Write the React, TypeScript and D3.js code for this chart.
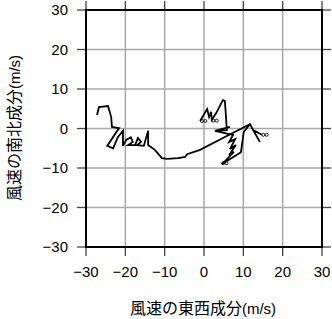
import React from "react";
import * as d3 from "d3";

const xTicks = [-30, -20, -10, 0, 10, 20, 30];
const yTicks = [-30, -20, -10, 0, 10, 20, 30];

// Hodograph trace 1 (u, v) in m/s
const traceU1 = [-27.2, -26.7, -24.4, -23.6, -23.4, -21.6, -24.6, -23.1, -21.9, -20.6, -20.6, -19.8, -18.6, -18.1, -19.3, -17.5, -16.8, -16.0, -17.0, -15.3, -14.2, -14.2, -12.5, -10.7, -9.4, -6.6, -4.8, -4.3, -1.0, 5.8, 11.7, 12.5, 14.2, 12.5, 14.7];
const traceV1 = [3.4, 5.4, 5.7, 2.9, 0.4, 0.1, -4.4, -5.0, -2.2, -0.6, -4.4, -2.9, -2.2, -3.4, -4.2, -4.2, -2.4, -3.4, -4.2, -4.4, -0.6, -4.2, -5.4, -7.5, -7.7, -7.5, -7.2, -6.5, -5.4, -1.9, 1.1, -0.4, -3.4, -0.4, -1.6];

// Hodograph trace 2 (u, v) in m/s
const traceU2 = [-1.0, 0.8, 1.3, 1.8, 2.0, 3.1, 4.8, 5.3, 5.6, 5.8, 2.8, 6.6, 2.8, 6.4, 7.4, 6.4, 7.9, 6.6, 8.1, 6.4, 7.6, 5.6, 4.6, 9.4, 10.1, 11.7];
const traceV2 = [1.9, 4.9, 2.9, 4.2, 2.2, 3.9, 7.2, 7.0, 2.9, -0.4, -0.6, 0.4, -0.6, -1.4, -1.6, -3.4, -2.7, -5.2, -4.2, -6.7, -5.9, -8.0, -9.0, -6.0, -0.9, 1.1];

// marker positions (u, v)
const markU = [-0.1, 2.8, 15.5, 5.3];
const markV = [1.9, 2.0, -1.6, -8.8];

const W = 332, H = 319;
const L = 86, R = 322, T = 10, B = 247;

export default function App() {
  const x = d3.scaleLinear().domain([-30, 30]).range([L, R]);
  const y = d3.scaleLinear().domain([-30, 30]).range([B, T]);
  const line = d3.line<[number, number]>().x((d) => x(d[0])).y((d) => y(d[1]));
  const p1 = traceU1.map((u, i) => [u, traceV1[i]] as [number, number]);
  const p2 = traceU2.map((u, i) => [u, traceV2[i]] as [number, number]);
  const tickLen = 9;
  const tickFont = "'Liberation Sans', Arial, sans-serif";
  const cjk = "'Noto Sans CJK JP', sans-serif";
  return (
    <svg width={W} height={H} style={{ position: "absolute", left: 0, top: 0, background: "#fff" }}>
      <rect x={0} y={0} width={W} height={H} fill="#fff" />
      {/* grid */}
      {xTicks.slice(1, -1).map((t) => (
        <line key={"gx" + t} x1={x(t)} x2={x(t)} y1={T} y2={B} stroke="#a8a8a8" strokeWidth={1.5} />
      ))}
      {yTicks.slice(1, -1).map((t) => (
        <line key={"gy" + t} x1={L} x2={R} y1={y(t)} y2={y(t)} stroke="#a8a8a8" strokeWidth={1.5} />
      ))}
      {/* ticks */}
      {xTicks.map((t) => (
        <g key={"tx" + t}>
          <line x1={x(t)} x2={x(t)} y1={B} y2={B + tickLen} stroke="#444" strokeWidth={1.3} />
          <line x1={x(t)} x2={x(t)} y1={T} y2={T - tickLen} stroke="#444" strokeWidth={1.3} />
        </g>
      ))}
      {yTicks.map((t) => (
        <g key={"ty" + t}>
          <line x1={L} x2={L - tickLen} y1={y(t)} y2={y(t)} stroke="#444" strokeWidth={1.3} />
          <line x1={R} x2={R + tickLen} y1={y(t)} y2={y(t)} stroke="#444" strokeWidth={1.3} />
        </g>
      ))}
      {/* data */}
      <path d={line(p1) || ""} fill="none" stroke="#000" strokeWidth={1.8} strokeLinejoin="miter" strokeMiterlimit={4} />
      <path d={line(p2) || ""} fill="none" stroke="#000" strokeWidth={1.8} strokeLinejoin="miter" strokeMiterlimit={4} />
      {markU.map((u, i) => (
        <g key={"m" + i}>
          <circle cx={x(u) - 1.7} cy={y(markV[i])} r={1.5} fill="none" stroke="#000" strokeWidth={0.9} />
          <circle cx={x(u) + 1.7} cy={y(markV[i])} r={1.5} fill="none" stroke="#000" strokeWidth={0.9} />
        </g>
      ))}
      {/* frame */}
      <rect x={L} y={T} width={R - L} height={B - T} fill="none" stroke="#000" strokeWidth={2} />
      {/* tick labels */}
      {xTicks.map((t) => (
        <text key={"lx" + t} x={x(t)} y={277} textAnchor="middle" fontFamily={tickFont} fontSize={15} fill="#000">
          {t < 0 ? "\u2212" + Math.abs(t) : String(t)}
        </text>
      ))}
      {yTicks.map((t) => (
        <text key={"ly" + t} x={68} y={y(t) + 5.3} textAnchor="end" fontFamily={tickFont} fontSize={15} fill="#000">
          {t < 0 ? "\u2212" + Math.abs(t) : String(t)}
        </text>
      ))}
      {/* axis titles */}
      <text x={203} y={314} textAnchor="middle" fontSize={16} fill="#000">
        <tspan fontFamily={cjk}>風速の東西成分</tspan>
        <tspan fontFamily={tickFont} fontSize={15}>(m/s)</tspan>
      </text>
      <text transform="translate(20,128) rotate(-90)" textAnchor="middle" fontSize={16} fill="#000">
        <tspan fontFamily={cjk}>風速の南北成分</tspan>
        <tspan fontFamily={tickFont} fontSize={15}>(m/s)</tspan>
      </text>
    </svg>
  );
}
